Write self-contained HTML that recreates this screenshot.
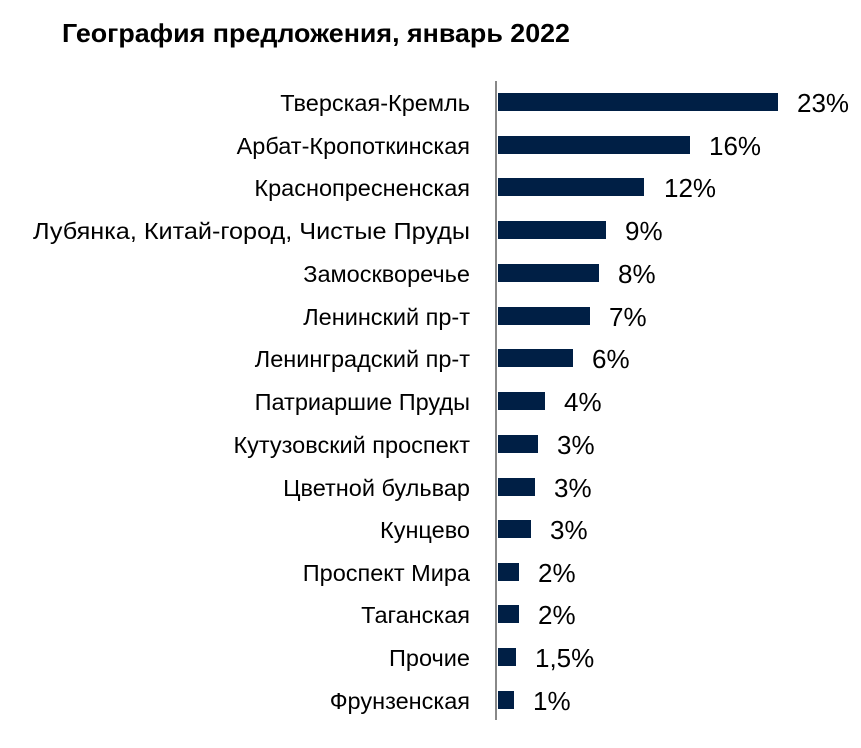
<!DOCTYPE html>
<html><head><meta charset="utf-8"><style>html,body{margin:0;padding:0;background:#fff}svg{display:block}</style></head>
<body>
<svg width="861" height="748" xmlns="http://www.w3.org/2000/svg" font-family="Liberation Sans, sans-serif">
<text x="62" y="42" font-size="26" font-weight="bold" fill="#000" textLength="508" lengthAdjust="spacingAndGlyphs">География предложения, январь 2022</text>
<line x1="496" y1="81" x2="496" y2="720" stroke="#888" stroke-width="2"/>
<g fill="#001f45">
<rect x="498" y="93" width="280" height="18"/>
<rect x="498" y="136" width="192" height="18"/>
<rect x="498" y="178" width="146" height="18"/>
<rect x="498" y="221" width="108" height="18"/>
<rect x="498" y="264" width="101" height="18"/>
<rect x="498" y="307" width="92" height="18"/>
<rect x="498" y="349" width="75" height="18"/>
<rect x="498" y="392" width="47" height="18"/>
<rect x="498" y="435" width="40" height="18"/>
<rect x="498" y="478" width="37" height="18"/>
<rect x="498" y="520" width="33" height="18"/>
<rect x="498" y="563" width="21" height="18"/>
<rect x="498" y="605" width="21" height="18"/>
<rect x="498" y="648" width="18" height="18"/>
<rect x="498" y="691" width="16" height="18"/>
</g>
<g font-size="23.5" fill="#000" text-anchor="end">
<text x="470" y="111">Тверская-Кремль</text>
<text x="470" y="154">Арбат-Кропоткинская</text>
<text x="470" y="196">Краснопресненская</text>
<text x="470" y="239" textLength="437" lengthAdjust="spacingAndGlyphs">Лубянка, Китай-город, Чистые Пруды</text>
<text x="470" y="282">Замоскворечье</text>
<text x="470" y="325">Ленинский пр-т</text>
<text x="470" y="367">Ленинградский пр-т</text>
<text x="470" y="410">Патриаршие Пруды</text>
<text x="470" y="453">Кутузовский проспект</text>
<text x="470" y="496">Цветной бульвар</text>
<text x="470" y="538">Кунцево</text>
<text x="470" y="581">Проспект Мира</text>
<text x="470" y="623">Таганская</text>
<text x="470" y="666">Прочие</text>
<text x="470" y="709">Фрунзенская</text>
</g>
<g font-size="26" fill="#000">
<text x="797" y="112">23%</text>
<text x="709" y="155">16%</text>
<text x="664" y="197">12%</text>
<text x="625" y="240">9%</text>
<text x="618" y="283">8%</text>
<text x="609" y="326">7%</text>
<text x="592" y="368">6%</text>
<text x="564" y="411">4%</text>
<text x="557" y="454">3%</text>
<text x="554" y="497">3%</text>
<text x="550" y="539">3%</text>
<text x="538" y="582">2%</text>
<text x="538" y="624">2%</text>
<text x="535" y="667">1,5%</text>
<text x="533" y="710">1%</text>
</g>
</svg>
</body></html>
